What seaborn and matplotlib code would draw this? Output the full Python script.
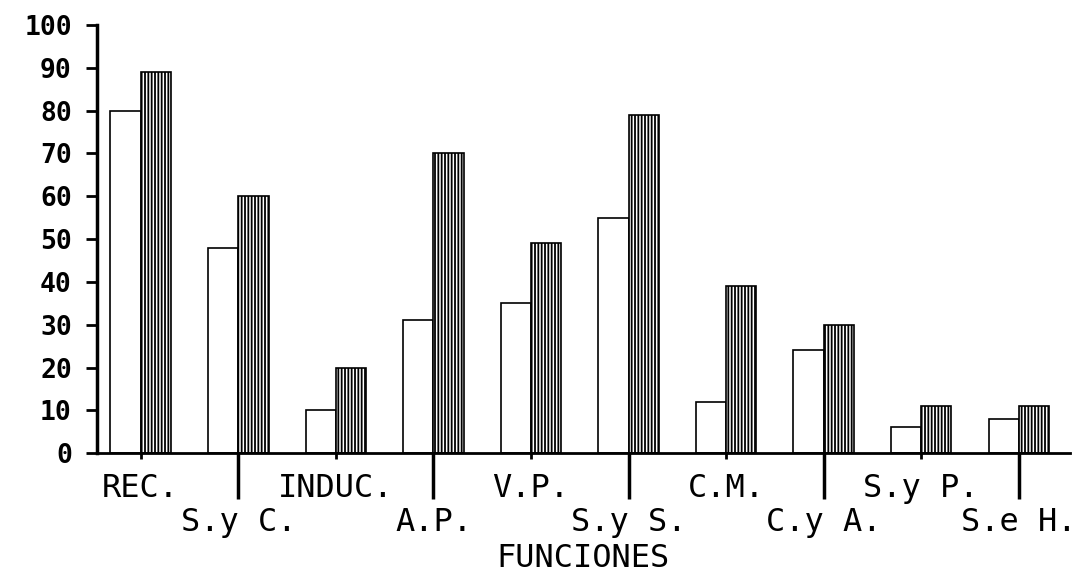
import pandas as pd
import matplotlib
matplotlib.use("Agg")
import matplotlib.pyplot as plt
import seaborn as sns

# Data
funciones = ['REC.', 'S.y C.', 'INDUC.', 'A.P.', 'V.P.',
             'S.y S.', 'C.M.', 'C.y A.', 'S.y P.', 'S.e H.']
serie_1 = [80, 48, 10, 31, 35, 55, 12, 24, 6, 8]
serie_2 = [89, 60, 20, 70, 49, 79, 39, 30, 11, 11]
y_ticks = [0, 10, 20, 30, 40, 50, 60, 70, 80, 90, 100]

sns.set_style('white')
plt.rcParams['font.family'] = ['DejaVu Sans Mono', 'DejaVu Sans']
plt.rcParams['hatch.linewidth'] = 1.3
plt.rcParams['text.color'] = 'black'
plt.rcParams['xtick.color'] = 'black'
plt.rcParams['ytick.color'] = 'black'
plt.rcParams['axes.labelcolor'] = 'black'

df = pd.DataFrame({
    'Funcion': funciones * 2,
    'Valor': serie_1 + serie_2,
    'Serie': ['Serie 1'] * len(funciones) + ['Serie 2'] * len(funciones),
})

fig = plt.figure(figsize=(10.76, 5.81), dpi=100)
ax = fig.add_axes([0.090, 0.220, 0.904, 0.737])

sns.barplot(data=df, x='Funcion', y='Valor', hue='Serie', order=funciones,
            palette=['white', 'white'], width=0.62, gap=0,
            edgecolor='black', linewidth=1.2, legend=False, ax=ax)

# hatch the second series with dense vertical lines
n = len(funciones)
for i, bar in enumerate(ax.patches):
    if i >= n:
        bar.set_hatch('|||||')

ax.set_xlim(-0.45, 9.52)
ax.set_ylim(0, 100)
ax.set_yticks(y_ticks)
ax.set_yticklabels([str(v) for v in y_ticks], fontsize=19, fontweight='bold')

for s in ['top', 'right']:
    ax.spines[s].set_visible(False)
ax.spines['left'].set_linewidth(2.5)
ax.spines['left'].set_color('black')
ax.spines['bottom'].set_linewidth(2)
ax.spines['bottom'].set_color('black')

ax.tick_params(axis='y', direction='out', length=8, width=2, pad=10, left=True)

# labels in two alternating rows: first row on major ticks, second on minor
pos = list(range(n))
ax.set_xticks(pos[0::2])
ax.set_xticklabels(funciones[0::2], fontsize=23)
ax.set_xticks(pos[1::2], minor=True)
ax.set_xticklabels(funciones[1::2], minor=True, fontsize=23)
ax.tick_params(axis='x', which='major', direction='out', length=4, width=2,
               pad=10, bottom=True)
ax.tick_params(axis='x', which='minor', direction='out', length=33, width=2.5,
               pad=6, bottom=True)

ax.set_ylabel('')
ax.set_xlabel('FUNCIONES', fontsize=23, labelpad=3)

fig.savefig('out.png', dpi=100)
